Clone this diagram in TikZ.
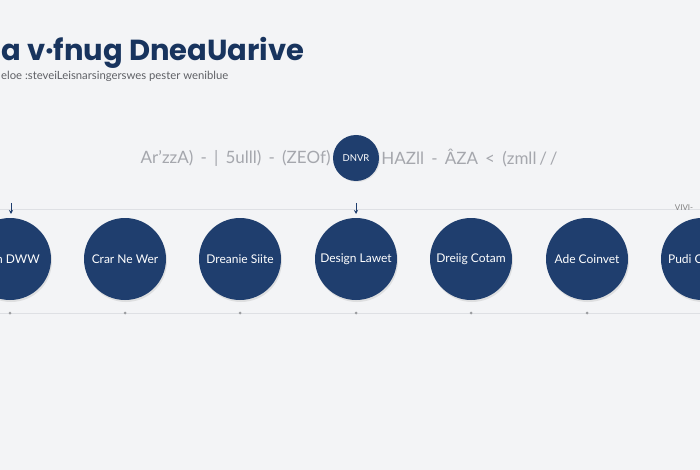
\documentclass[tikz,border=0pt]{standalone}
\usepackage{fontspec}
\setmainfont{Lato}
\newfontfamily\titlefont{Poppins}
\usetikzlibrary{shadows,arrows.meta}
\definecolor{navy}{RGB}{31,62,110}
\definecolor{inkblue}{RGB}{24,52,94}
\definecolor{paper}{RGB}{243,244,246}
\definecolor{rulegray}{RGB}{222,224,228}
\definecolor{scribble}{RGB}{165,167,173}
\definecolor{subgray}{RGB}{95,97,102}
\tikzset{
  stage/.style={circle, fill=navy, minimum size=82pt, inner sep=0pt, text=white,
    font=\fontsize{12}{14}\selectfont,
    drop shadow={opacity=0.18, shadow xshift=1pt, shadow yshift=-2pt}},
  dot/.style={circle, fill=rulegray!70!black, inner sep=0pt, minimum size=3pt},
  down/.style={-{Stealth[length=4pt,width=4pt]}, navy, line width=0.8pt},
  timeline/.style={rulegray, line width=0.7pt},
  scrawl/.style={text=scribble, inner sep=2pt, font=\fontsize{17}{19}\selectfont}
}
\begin{document}
\begin{tikzpicture}[x=1pt,y=-1pt]
  \fill[paper] (0,0) rectangle (700,470);
  \useasboundingbox (0,0) rectangle (700,470);
  \clip (0,0) rectangle (700,470);
  % heading
  \node[anchor=base west, inner sep=0pt, text=inkblue,
        font=\titlefont\bfseries\fontsize{29}{31}\selectfont] (title) at (1,61) {a v·fnug DneaUarive};
  \node[anchor=base west, inner sep=0pt, text=subgray,
        font=\fontsize{11.3}{13}\selectfont] (subtitle) at (1,80) {eloe :steveiLeisnarsingerswes pester weniblue};
  % scribbled row
  \node[circle, fill=navy, minimum size=46pt, inner sep=0pt, text=white,
        font=\fontsize{9.5}{10}\selectfont,
        drop shadow={opacity=0.15, shadow xshift=1pt, shadow yshift=-1pt}] (hub) at (356,158) {DNVR};
  \node[anchor=east, scrawl] (scrawlL) at (hub.west) {Ar'zzA) \,-\, |\, 5ulll) \,-\, (ZEOf)};
  \node[anchor=west, scrawl] (scrawlR) at (hub.east) {HAZll \,-\, ÂZA \,<\, (zmll\,/\,/};
  % upper line
  \coordinate (topL) at (0,209);
  \coordinate (topR) at (700,209);
  \draw[timeline] (topL) -- (topR);
  \coordinate (a1) at (11,203);
  \coordinate (b1) at (11,214);
  \draw[down] (a1) -- (b1);
  \coordinate (a2) at (356,203);
  \coordinate (b2) at (356,214);
  \draw[down] (a2) -- (b2);
  \node[text=gray, font=\fontsize{8}{9}\selectfont] (corner) at (684,208) {VIVI-};
  % stages
  \node[stage] (plan) at (10,259) {Plan DWW};
  \node[stage] (crar) at (125,259) {Crar Ne Wer};
  \node[stage] (dreanie) at (240,259) {Dreanie Siite};
  \node[stage] (design) at (356,259) {Design Lawet};
  \node[stage] (dreiig) at (471,259) {Dreiig Cotam};
  \node[stage] (ade) at (587,259) {Ade Coinvet};
  \node[stage] (pudi) at (702,259) {Pudi Conwet};
  % lower line
  \coordinate (botL) at (0,313);
  \coordinate (botR) at (700,313);
  \draw[timeline] (botL) -- (botR);
  \node[dot] (d1) at (10,313) {};
  \node[dot] (d2) at (125,313) {};
  \node[dot] (d3) at (240,313) {};
  \node[dot] (d4) at (356,313) {};
  \node[dot] (d5) at (471,313) {};
  \node[dot] (d6) at (587,313) {};
\end{tikzpicture}
\end{document}
